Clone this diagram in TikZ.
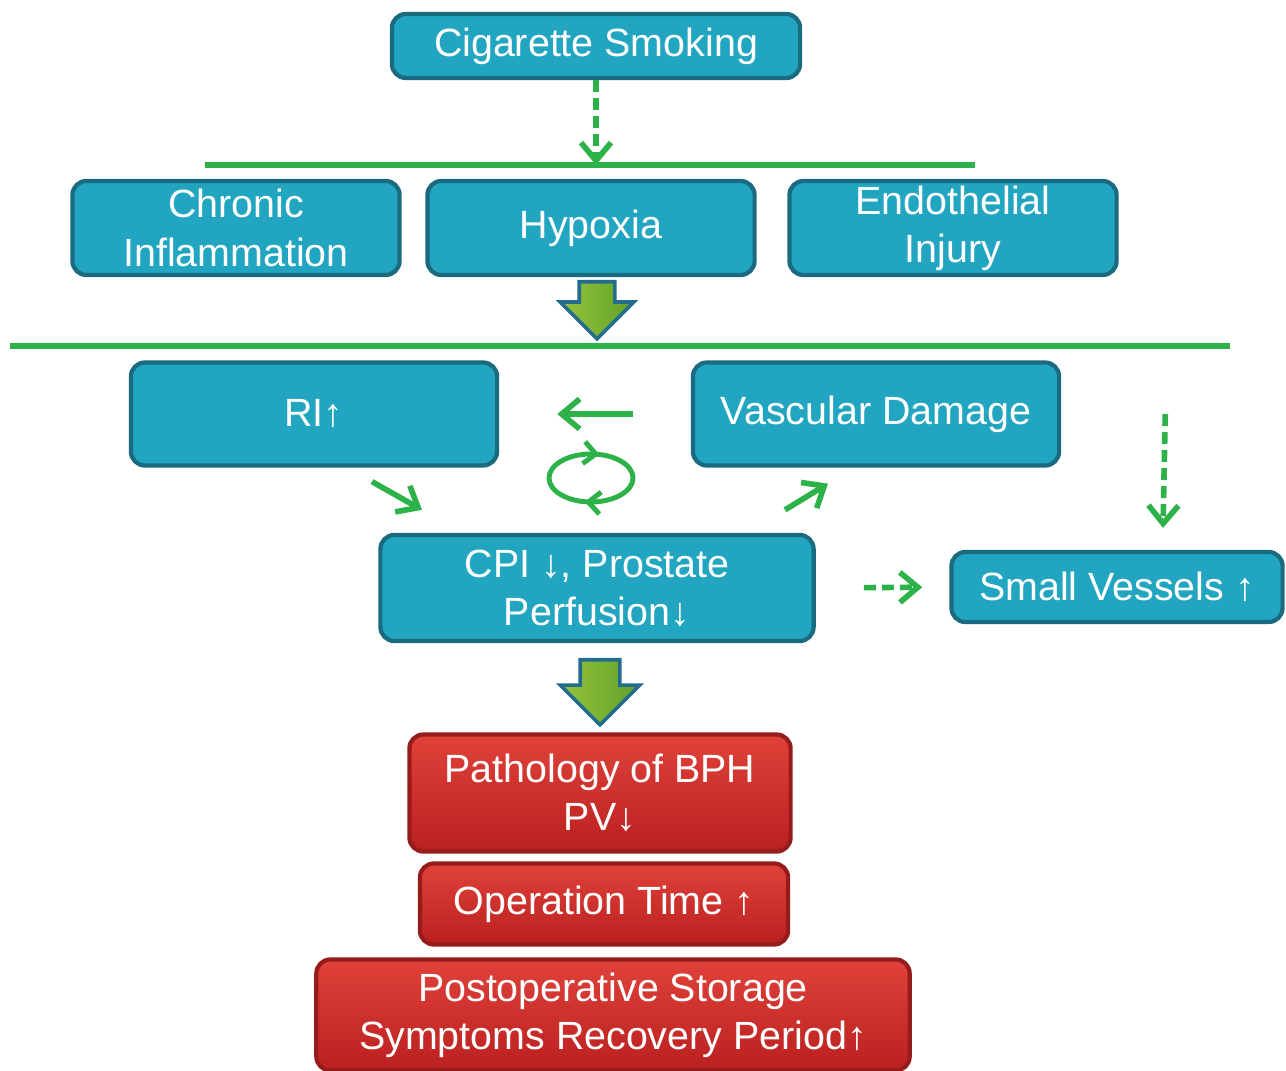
\documentclass[tikz,border=0pt]{standalone}
\usepackage{fontspec}
\setmainfont{Liberation Sans}
\usetikzlibrary{arrows.meta,shapes.arrows,decorations.markings,calc}

\definecolor{tealfill}{RGB}{33,165,192}
\definecolor{tealedge}{RGB}{26,106,128}
\definecolor{redtop}{RGB}{224,66,58}
\definecolor{redbot}{RGB}{186,32,32}
\definecolor{rededge}{RGB}{150,28,28}
\definecolor{arrgreen}{RGB}{44,178,72}
\definecolor{fatlight}{RGB}{150,196,60}
\definecolor{fatdark}{RGB}{96,160,40}
\definecolor{fatedge}{RGB}{36,108,140}

\begin{document}
\begin{tikzpicture}[
    x=0.01cm, y=-0.01cm,
    box/.style={draw=tealedge, line width=1.2pt, fill=tealfill, rounded corners=0.14cm, align=center, text=white, inner sep=0pt, font=\fontsize{11.2}{13.7}\selectfont},
    redbox/.style={box, draw=rededge, top color=redtop, bottom color=redbot},
    arr/.style={-{Straight Barb[length=0.18cm, width=0.3cm]}, line width=1.6pt, draw=arrgreen},
    darr/.style={arr, dash pattern=on 0.12cm off 0.06cm},
    fat/.style={single arrow, rotate=-90, anchor=tail, draw=fatedge, line width=1pt, left color=fatlight, right color=fatdark, inner sep=0.16cm, single arrow head extend=0.19cm}
]
\useasboundingbox (0,0) rectangle (1286,1071);

\node[box, minimum width=4.08cm, minimum height=0.64cm] (cig) at (596,46) {Cigarette Smoking};
\node[box, minimum width=3.27cm, minimum height=0.94cm] (chr) at (236,228) {Chronic\\Inflammation};
\node[box, minimum width=3.27cm, minimum height=0.94cm] (hyp) at (591,228) {Hypoxia};
\node[box, minimum width=3.27cm, minimum height=0.94cm] (endo) at (953,228) {Endothelial\\Injury};
\node[box, minimum width=3.66cm, minimum height=1.03cm] (ri) at (314,414) {RI↑};
\node[box, minimum width=3.66cm, minimum height=1.03cm] (vd) at (876,414) {Vascular Damage};
\node[box, minimum width=4.33cm, minimum height=1.06cm] (cpi) at (597,588) {CPI ↓, Prostate\\Perfusion↓};
\node[box, minimum width=3.31cm, minimum height=0.70cm] (sv) at (1117,587) {Small Vessels ↑};
\node[redbox, minimum width=3.81cm, minimum height=1.17cm] (path) at (600,793) {Pathology of BPH\\PV↓};
\node[redbox, minimum width=3.68cm, minimum height=0.81cm] (op) at (604,904) {Operation Time ↑};
\node[redbox, minimum width=5.93cm, minimum height=1.11cm] (post) at (613,1015) {Postoperative Storage\\Symptoms Recovery Period↑};

\node[fat, minimum height=0.57cm] (fat1) at (597,280) {};
\node[fat, minimum height=0.65cm, inner sep=0.18cm, single arrow head extend=0.2cm] (fat2) at (600,658) {};

% green lines
\coordinate (topl) at (205,165);
\coordinate (topr) at (975,165);
\coordinate (midl) at (10,346);
\coordinate (midr) at (1230,346);
\draw[arrgreen, line width=1.6pt] (topl) -- (topr);
\draw[arrgreen, line width=1.6pt] (midl) -- (midr);

\draw[darr] (cig) -- (cig |- topl);
\draw[arr, shorten <=0.58cm, shorten >=0.58cm] (vd.west) -- (ri.east);
\draw[arr] ([shift={(58,14)}]ri.south) -- ([shift={(-175,-23)}]cpi.north);
\draw[arr] ([shift={(188,-23)}]cpi.north) -- ([shift={(-48,16)}]vd.south);
\draw[darr, shorten <=0.48cm, shorten >=0.27cm] (cpi.east) -- (sv.west);
\draw[darr] ([shift={(104,0)}]vd.east) -- ([shift={(46,-22)}]sv.north);

% cycle
\draw[arrgreen, line width=1.4pt, postaction={decorate}, decoration={markings,
    mark=at position 0.28 with {\arrow{Straight Barb[length=0.12cm, width=0.22cm]}},
    mark=at position 0.79 with {\arrow{Straight Barb[length=0.12cm, width=0.22cm]}}}]
    (591,478) ellipse [x radius=42, y radius=24];
\end{tikzpicture}
\end{document}
